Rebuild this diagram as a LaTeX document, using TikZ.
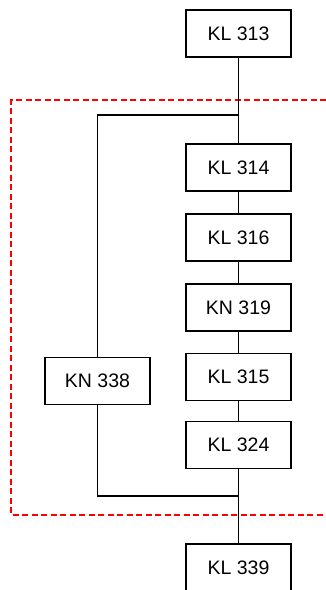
\documentclass[tikz,border=0pt]{standalone}
\usepackage{fontspec}
\setmainfont{Liberation Sans}
\begin{document}
\begin{tikzpicture}[x=1pt,y=-1pt,
	  unit/.style={draw, line width=1.2pt, minimum width=105pt, minimum height=47pt, inner sep=0pt, font=\fontsize{19.5}{22}\selectfont},
	  link/.style={draw, line width=1.2pt},
	  zone/.style={draw=red, line width=2pt, dash pattern=on 6pt off 3.5pt}]
	  \clip (0,0) rectangle (326,590);
	  \useasboundingbox (0,0) rectangle (326,590);

	  % dashed frame, open on the right
	  \draw[zone] (326,100) -- (11,100) -- (11,515) -- (326,515);

	  \node[unit] (kl313) at (238.5,33.5) {KL 313};
	  \node[unit] (kl314) at (238.5,167.5) {KL 314};
	  \node[unit] (kl316) at (238.5,237.5) {KL 316};
	  \node[unit] (kn319) at (238.5,307.5) {KN 319};
	  \node[unit] (kl315) at (238.5,377) {KL 315};
	  \node[unit] (kl324) at (238.5,445) {KL 324};
	  \node[unit] (kl339) at (238.5,567.5) {KL 339};
	  \node[unit] (kn338) at (97.5,381) {KN 338};

	  \coordinate (split) at (238.5,115);
	  \coordinate (merge) at (238.5,496);

	  \draw[link] (kl313) -- (kl314);
	  \draw[link] (kl314) -- (kl316);
	  \draw[link] (kl316) -- (kn319);
	  \draw[link] (kn319) -- (kl315);
	  \draw[link] (kl315) -- (kl324);
	  \draw[link] (kl324) -- (kl339);

	  % side branch through KN 338
	  \draw[link] (split) -| (kn338);
	  \draw[link] (kn338) |- (merge);

\end{tikzpicture}
\end{document}
